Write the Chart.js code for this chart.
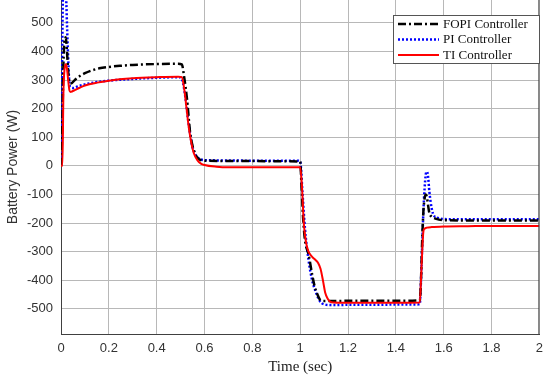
<!DOCTYPE html>
<html>
<head>
<meta charset="utf-8">
<script src="https://cdn.jsdelivr.net/npm/chart.js@4.4.0/dist/chart.umd.min.js"></script>
<style>
  html, body { margin: 0; padding: 0; background: #fff; }
  #wrap { width: 550px; height: 380px; }
</style>
</head>
<body>
<div id="wrap"><canvas id="powerChart" width="550" height="380"></canvas></div>
<script>
// Series (time in sec, power in W)
const fopiTime = [0, 0.005, 0.01, 0.015, 0.02, 0.025, 0.03, 0.035, 0.04, 0.046, 0.06, 0.08, 0.1, 0.13, 0.16, 0.2, 0.25, 0.3, 0.4, 0.49,
    0.505, 0.515, 0.527, 0.54, 0.55, 0.56, 0.57, 0.58, 0.6, 0.7, 0.8, 0.9, 1.0, 1.005, 1.012, 1.02, 1.035, 1.05, 1.06, 1.07,
    1.085, 1.1, 1.12, 1.2, 1.3, 1.4, 1.5, 1.505, 1.51, 1.515, 1.52, 1.525, 1.53, 1.535, 1.54, 1.55, 1.56, 1.58, 1.6, 1.7, 1.8, 1.9, 2.0];
const fopiPower = [0, 120, 350, 440, 450, 400, 330, 295, 288, 290, 302, 315, 324, 334, 341, 346, 350, 353, 356, 357,
    355, 310, 232, 115, 70, 45, 28, 22, 18, 17, 17, 16, 15, -60, -180, -260, -310, -380, -420, -445,
    -470, -473, -473, -472, -472, -472, -470, -400, -260, -160, -115, -100, -110, -140, -165, -178, -183, -188, -190, -191, -191, -191, -191];

const piTime = [0, 0.004, 0.008, 0.012, 0.02, 0.028, 0.035, 0.04, 0.05, 0.07, 0.1, 0.15, 0.2, 0.3, 0.4, 0.49, 0.5, 0.51, 0.52, 0.53,
    0.54, 0.55, 0.56, 0.57, 0.58, 0.6, 0.7, 0.8, 0.9, 0.99, 1.0, 1.01, 1.02, 1.035, 1.05, 1.067, 1.08, 1.09, 1.1, 1.125,
    1.15, 1.2, 1.3, 1.4, 1.49, 1.5, 1.505, 1.51, 1.515, 1.52, 1.525, 1.53, 1.535, 1.54, 1.55, 1.56, 1.58, 1.6, 1.7, 1.8, 1.9, 2.0];
const piPower = [0, 300, 600, 700, 620, 420, 290, 275, 272, 278, 285, 293, 298, 304, 308, 310, 309, 290, 240, 170,
    110, 65, 42, 30, 24, 20, 19, 18, 18, 18, 15, -100, -220, -330, -400, -445, -470, -480, -484, -487,
    -487, -486, -486, -485, -485, -483, -400, -280, -160, -80, -30, -20, -40, -90, -150, -175, -183, -186, -187, -187, -187, -187];

const tiTime = [0, 0.006, 0.01, 0.015, 0.02, 0.025, 0.03, 0.035, 0.04, 0.046, 0.06, 0.08, 0.1, 0.15, 0.2, 0.3, 0.4, 0.49, 0.505, 0.515,
    0.525, 0.535, 0.545, 0.555, 0.57, 0.585, 0.6, 0.65, 0.7, 0.8, 0.9, 1.0, 1.008, 1.015, 1.025, 1.035, 1.05, 1.065, 1.075, 1.085,
    1.095, 1.105, 1.115, 1.125, 1.14, 1.2, 1.3, 1.4, 1.5, 1.505, 1.51, 1.515, 1.52, 1.53, 1.55, 1.6, 1.7, 1.8, 1.9, 2.0];
const tiPower = [0, 0, 250, 340, 355, 340, 300, 265, 258, 260, 266, 274, 281, 291, 298, 306, 310, 312, 310, 270,
    200, 130, 80, 45, 20, 8, 3, -3, -5, -5, -5, -5, -80, -200, -270, -300, -318, -330, -340, -360,
    -400, -445, -465, -475, -478, -479, -479, -479, -478, -400, -300, -230, -220, -216, -214, -212, -211, -210, -210, -210];

const seriesLabels = ['FOPI Controller', 'PI Controller', 'TI Controller'];
const yTickValues = [-500, -400, -300, -200, -100, 0, 100, 200, 300, 400, 500];
const xTickValues = [0, 0.2, 0.4, 0.6, 0.8, 1, 1.2, 1.4, 1.6, 1.8, 2];

const toPoints = (xs, ys) => xs.map((x, i) => ({ x: x, y: ys[i] }));

// legend box + right frame, MATLAB style
const matlabFrame = {
    id: 'matlabFrame',
    afterDraw(chart) {
        const ctx = chart.ctx;
        const area = chart.chartArea;
        ctx.save();
        ctx.strokeStyle = '#404040';
        ctx.lineWidth = 1;
        ctx.beginPath();
        ctx.moveTo(area.right - 0.5, area.top);
        ctx.lineTo(area.right - 0.5, area.bottom);
        ctx.stroke();

        // legend
        const bx = 393.5, by = 15.5, bw = 146, bh = 48;
        ctx.fillStyle = '#fff';
        ctx.fillRect(bx, by, bw, bh);
        ctx.strokeStyle = '#555';
        ctx.strokeRect(bx, by, bw, bh);
        ctx.font = '13px "Liberation Serif", "Times New Roman", serif';
        ctx.textBaseline = 'middle';
        chart.data.datasets.forEach((ds, i) => {
            const ly = 24 + i * 15.5;
            ctx.strokeStyle = ds.borderColor;
            ctx.lineWidth = ds.borderWidth;
            ctx.setLineDash(ds.borderDash || []);
            ctx.beginPath();
            ctx.moveTo(398, ly);
            ctx.lineTo(439, ly);
            ctx.stroke();
            ctx.setLineDash([]);
            ctx.fillStyle = '#111';
            ctx.fillText(ds.label, 443, ly + 0.5);
        });
        ctx.restore();
    }
};

const ctx = document.getElementById('powerChart').getContext('2d');
new Chart(ctx, {
    type: 'line',
    data: {
        datasets: [
            {
                label: seriesLabels[0],
                data: toPoints(fopiTime, fopiPower),
                borderColor: '#000000',
                borderWidth: 2.5,
                borderDash: [8, 3, 2, 3],
                order: 1
            },
            {
                label: seriesLabels[1],
                data: toPoints(piTime, piPower),
                borderColor: '#0000ff',
                borderWidth: 2.5,
                borderDash: [2, 2],
                order: 2
            },
            {
                label: seriesLabels[2],
                data: toPoints(tiTime, tiPower),
                borderColor: '#ff0000',
                borderWidth: 2,
                order: 0
            }
        ]
    },
    options: {
        responsive: false,
        animation: false,
        layout: { padding: { top: 0, right: 10, left: 0, bottom: 0 } },
        elements: {
            point: { radius: 0 },
            line: { cubicInterpolationMode: 'monotone', fill: false }
        },
        plugins: {
            legend: { display: false },
            tooltip: { enabled: false }
        },
        scales: {
            x: {
                type: 'linear',
                min: 0,
                max: 2,
                afterBuildTicks: scale => { scale.ticks = xTickValues.map(v => ({ value: v })); },
                afterFit: scale => { scale.height = 46; },
                ticks: {
                    color: '#333',
                    padding: 7,
                    font: { family: '"Liberation Sans", Arial, sans-serif', size: 13 },
                    callback: v => String(v)
                },
                grid: { color: '#b8b8b8', drawTicks: false },
                border: { color: '#404040' },
                title: {
                    display: true,
                    text: 'Time (sec)',
                    color: '#222',
                    font: { family: '"Liberation Serif", "Times New Roman", serif', size: 15 },
                    padding: { top: 0, bottom: 4 }
                }
            },
            y: {
                min: -588,
                max: 580,
                afterBuildTicks: scale => { scale.ticks = yTickValues.map(v => ({ value: v })); },
                afterFit: scale => {
                    scale.width = 61;
                    scale.paddingTop = 0;
                    scale.paddingBottom = 0;
                },
                ticks: {
                    color: '#333',
                    padding: 8,
                    font: { family: '"Liberation Sans", Arial, sans-serif', size: 13 },
                    callback: v => String(v)
                },
                grid: { color: '#b8b8b8', drawTicks: false },
                border: { color: '#404040' },
                title: {
                    display: true,
                    text: 'Battery Power (W)',
                    color: '#333',
                    font: { family: '"Liberation Sans", Arial, sans-serif', size: 14 },
                    padding: { top: 5, bottom: 4 }
                }
            }
        }
    },
    plugins: [matlabFrame]
});
</script>
</body>
</html>
